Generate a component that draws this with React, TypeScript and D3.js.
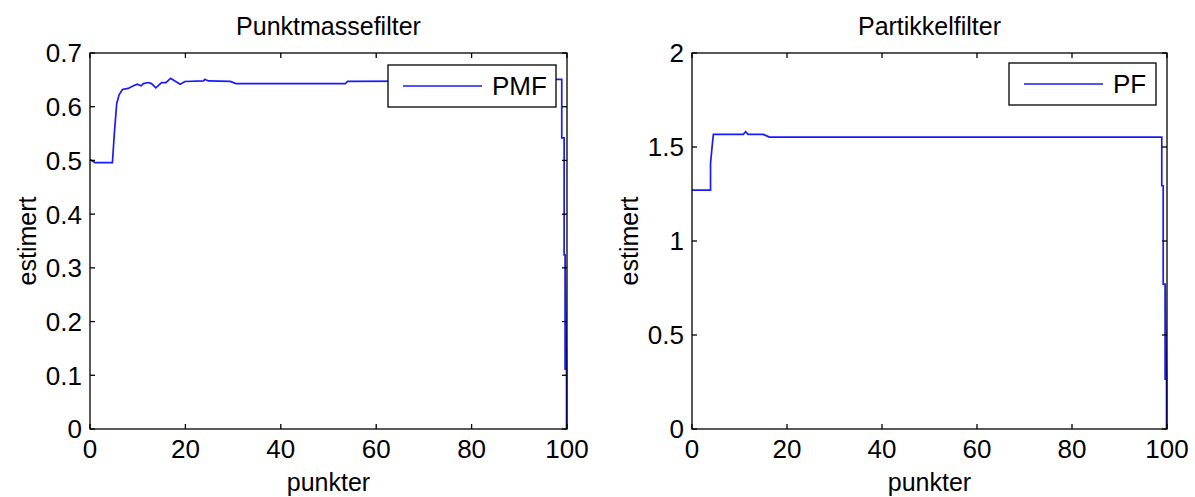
import React from "react";
import * as d3 from "d3";

// PMF series (Punktmassefilter)
const pmfX = [0, 1, 4.7, 5.1, 5.6, 6.1, 6.8, 8, 9.1, 9.9, 10.7, 11.2, 12.2, 12.9, 13.8, 15, 15.9, 16.9, 17.8, 18.9, 19.9, 23.8, 24.1, 24.8, 29.4, 30.6, 53.5, 54, 80, 85, 98.9, 98.9, 99.4, 99.4, 99.6, 99.6, 99.6, 99.6, 99.6, 99.9, 99.9];
const pmfY = [0.502, 0.496, 0.496, 0.55, 0.606, 0.622, 0.632, 0.634, 0.639, 0.642, 0.639, 0.643, 0.645, 0.643, 0.635, 0.645, 0.645, 0.653, 0.648, 0.642, 0.647, 0.648, 0.651, 0.648, 0.647, 0.643, 0.643, 0.647, 0.648, 0.651, 0.651, 0.542, 0.542, 0.324, 0.324, 0.11, 0.324, 0.11, 0.324, 0.11, 0];

// PF series (Partikkelfilter)
const pfX = [0, 3.9, 3.9, 4.3, 4.5, 10.8, 11.3, 11.8, 15, 16.3, 98.9, 98.9, 99.2, 99.2, 99.6, 99.6, 99.6, 99.6, 99.6, 99.9, 99.9];
const pfY = [1.271, 1.271, 1.413, 1.52, 1.567, 1.567, 1.581, 1.567, 1.567, 1.553, 1.553, 1.294, 1.294, 0.771, 0.771, 0.26, 0.771, 0.26, 0.771, 0.26, 0];

const xTicks = [0, 20, 40, 60, 80, 100];
const pmfYTicks = [0, 0.1, 0.2, 0.3, 0.4, 0.5, 0.6, 0.7];
const pmfYTickLabels = ["0", "0.1", "0.2", "0.3", "0.4", "0.5", "0.6", "0.7"];
const pfYTicks = [0, 0.5, 1, 1.5, 2];
const pfYTickLabels = ["0", "0.5", "1", "1.5", "2"];

const titles = ["Punktmassefilter", "Partikkelfilter"];
const legendLabels = ["PMF", "PF"];
const xLabel = "punkter";
const yLabel = "estimert";

const FONT = "'Liberation Sans', Arial, sans-serif";
const FS = 26;
const LFS = 25;

type PanelProps = {
  left: number; right: number; top: number; bottom: number;
  xs: number[]; ys: number[]; yMax: number; yTicks: number[]; yTickLabels: string[];
  title: string; legend: string; legendW: number; legendTop: number;
};

function Panel(p: PanelProps) {
  const x = d3.scaleLinear().domain([0, 100]).range([p.left, p.right]);
  const y = d3.scaleLinear().domain([0, p.yMax]).range([p.bottom, p.top]);
  const pts: [number, number][] = p.xs.map((v, i) => [v, p.ys[i]]);
  const line = d3.line<[number, number]>().x(d => x(d[0])).y(d => y(d[1]));
  const tl = 5;
  const cx = (p.left + p.right) / 2;
  const lgRight = p.right - 11;
  const lgLeft = lgRight - p.legendW;
  const lgTop = p.legendTop;
  const lgH = 42;
  return (
    <g>
      <rect x={p.left} y={p.top} width={p.right - p.left} height={p.bottom - p.top} fill="#fff" />
      <path d={line(pts) || ""} fill="none" stroke="#1a1aff" strokeWidth={1.7} />
      <rect x={p.left} y={p.top} width={p.right - p.left} height={p.bottom - p.top} fill="none" stroke="#000" strokeWidth={1.3} />
      {xTicks.map(t => (
        <g key={"x" + t}>
          <line x1={x(t)} x2={x(t)} y1={p.bottom} y2={p.bottom - tl} stroke="#000" strokeWidth={1.3} />
          <line x1={x(t)} x2={x(t)} y1={p.top} y2={p.top + tl} stroke="#000" strokeWidth={1.3} />
          <text x={x(t)} y={p.bottom + 29} textAnchor="middle" fontFamily={FONT} fontSize={FS} fill="#000">{t}</text>
        </g>
      ))}
      {p.yTicks.map((t, i) => (
        <g key={"y" + t}>
          <line x1={p.left} x2={p.left + tl} y1={y(t)} y2={y(t)} stroke="#000" strokeWidth={1.3} />
          <line x1={p.right} x2={p.right - tl} y1={y(t)} y2={y(t)} stroke="#000" strokeWidth={1.3} />
          <text x={p.left - 8} y={y(t)} dy="0.36em" textAnchor="end" fontFamily={FONT} fontSize={FS} fill="#000">{p.yTickLabels[i]}</text>
        </g>
      ))}
      <text x={cx} y={35} textAnchor="middle" fontFamily={FONT} fontSize={LFS} fill="#000">{p.title}</text>
      <text x={cx} y={491} textAnchor="middle" fontFamily={FONT} fontSize={LFS} fill="#000">{xLabel}</text>
      <text transform={`translate(${p.left - 54},${(p.top + p.bottom) / 2}) rotate(-90)`} textAnchor="middle" fontFamily={FONT} fontSize={LFS} fill="#000">{yLabel}</text>
      <rect x={lgLeft} y={lgTop} width={p.legendW} height={lgH} fill="#fff" stroke="#000" strokeWidth={1.3} />
      <line x1={lgLeft + 15} x2={lgLeft + 94} y1={lgTop + 21} y2={lgTop + 21} stroke="#1a1aff" strokeWidth={1.7} />
      <text x={lgLeft + 104} y={lgTop + 21} dy="0.36em" fontFamily={FONT} fontSize={FS} fill="#000">{p.legend}</text>
    </g>
  );
}

export default function App() {
  return (
    <svg width={1195} height={497} style={{ position: "absolute", left: 0, top: 0, background: "#fff" }}>
      <rect width={1195} height={497} fill="#fff" />
      <Panel left={90} right={567} top={53} bottom={429} xs={pmfX} ys={pmfY} yMax={0.7}
        yTicks={pmfYTicks} yTickLabels={pmfYTickLabels} title={titles[0]} legend={legendLabels[0]} legendW={168} legendTop={65} />
      <Panel left={692} right={1167} top={53} bottom={429} xs={pfX} ys={pfY} yMax={2}
        yTicks={pfYTicks} yTickLabels={pfYTickLabels} title={titles[1]} legend={legendLabels[1]} legendW={147} legendTop={63} />
    </svg>
  );
}
